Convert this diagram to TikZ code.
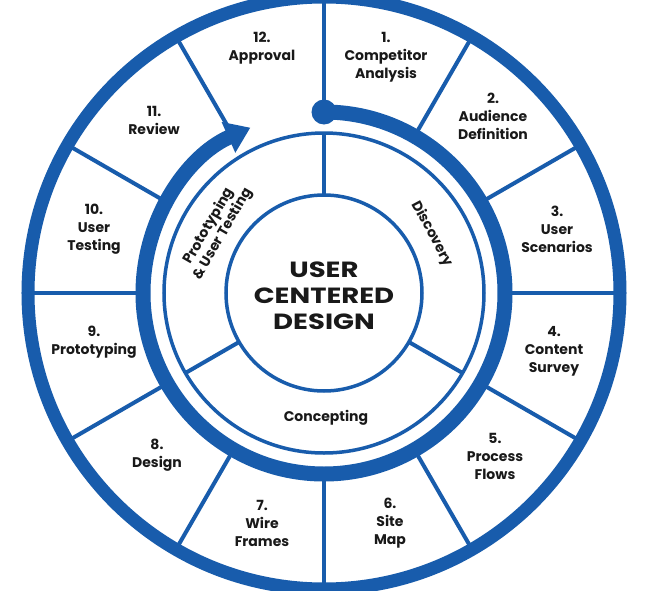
\documentclass[tikz,border=0pt]{standalone}
\usepackage{fontspec}
\setmainfont{Poppins}
\usetikzlibrary{arrows.meta}
\definecolor{ucdblue}{RGB}{24,92,172}
\begin{document}
\begin{tikzpicture}[x=1pt,y=1pt,>=stealth]
\tikzstyle{seg}=[draw=ucdblue,line width=4pt]
\tikzstyle{ring}=[draw=ucdblue,line width=3.5pt]
\tikzstyle{lbl}=[align=center,font=\bfseries\fontsize{14}{18}\selectfont,text=black!90]
\tikzstyle{phase}=[align=center,font=\bfseries\fontsize{14}{16}\selectfont,text=black!90]
\useasboundingbox (-324,-297) rectangle (324,293);
\fill[white] (-324,-297) rectangle (324,293);
% rings
\draw[ucdblue,line width=13pt] (0,0) circle (296pt);
\draw[ring] (0,0) circle (160pt);
\draw[ring] (0,0) circle (98pt);
% outer segments
\draw[seg] (0:181) -- (0:296);
\draw[seg] (30:181) -- (30:296);
\draw[seg] (60:181) -- (60:296);
\draw[seg] (90:181) -- (90:296);
\draw[seg] (120:181) -- (120:296);
\draw[seg] (150:181) -- (150:296);
\draw[seg] (180:181) -- (180:296);
\draw[seg] (210:181) -- (210:296);
\draw[seg] (240:181) -- (240:296);
\draw[seg] (270:181) -- (270:296);
\draw[seg] (300:181) -- (300:296);
\draw[seg] (330:181) -- (330:296);
% inner segments
\draw[seg] (90:98) -- (90:160);
\draw[seg] (210:98) -- (210:160);
\draw[seg] (330:98) -- (330:160);
% process arrow
\draw[ucdblue,line width=15pt,-{Triangle[length=24pt,width=32pt]}] (90:181) arc[start angle=90,end angle=-246,radius=181pt];
\fill[ucdblue] (90:181) circle (12.5pt);
% steps
\node[lbl] (s1) at (62,236) {1.\\Competitor\\Analysis};
\node[lbl] (s2) at (169,177) {2.\\Audience\\Definition};
\node[lbl] (s3) at (233,64) {3.\\User\\Scenarios};
\node[lbl] (s4) at (230,-58) {4.\\Content\\Survey};
\node[lbl] (s5) at (171,-163) {5.\\Process\\Flows};
\node[lbl] (s6) at (66,-230) {6.\\Site\\Map};
\node[lbl] (s7) at (-62,-230) {7.\\Wire\\Frames};
\node[lbl] (s8) at (-167,-162) {8.\\Design};
\node[lbl] (s9) at (-230,-49) {9.\\Prototyping};
\node[lbl] (s10) at (-230,64) {10.\\User\\Testing};
\node[lbl] (s11) at (-170,173) {11.\\Review};
\node[lbl] (s12) at (-62,245) {12.\\Approval};
% phases
\node[phase,rotate=-62] (disc) at (108,59) {Discovery};
\node[phase] (conc) at (2,-125) {Concepting};
\node[phase,rotate=60] (proto) at (-108,63) {Prototyping\\\& User Testing};
\node[align=center,font=\bfseries\fontsize{22}{26}\selectfont,text=black!90,xscale=1.25] (ucd) at (0,-3) {USER\\CENTERED\\DESIGN};
\end{tikzpicture}
\end{document}
